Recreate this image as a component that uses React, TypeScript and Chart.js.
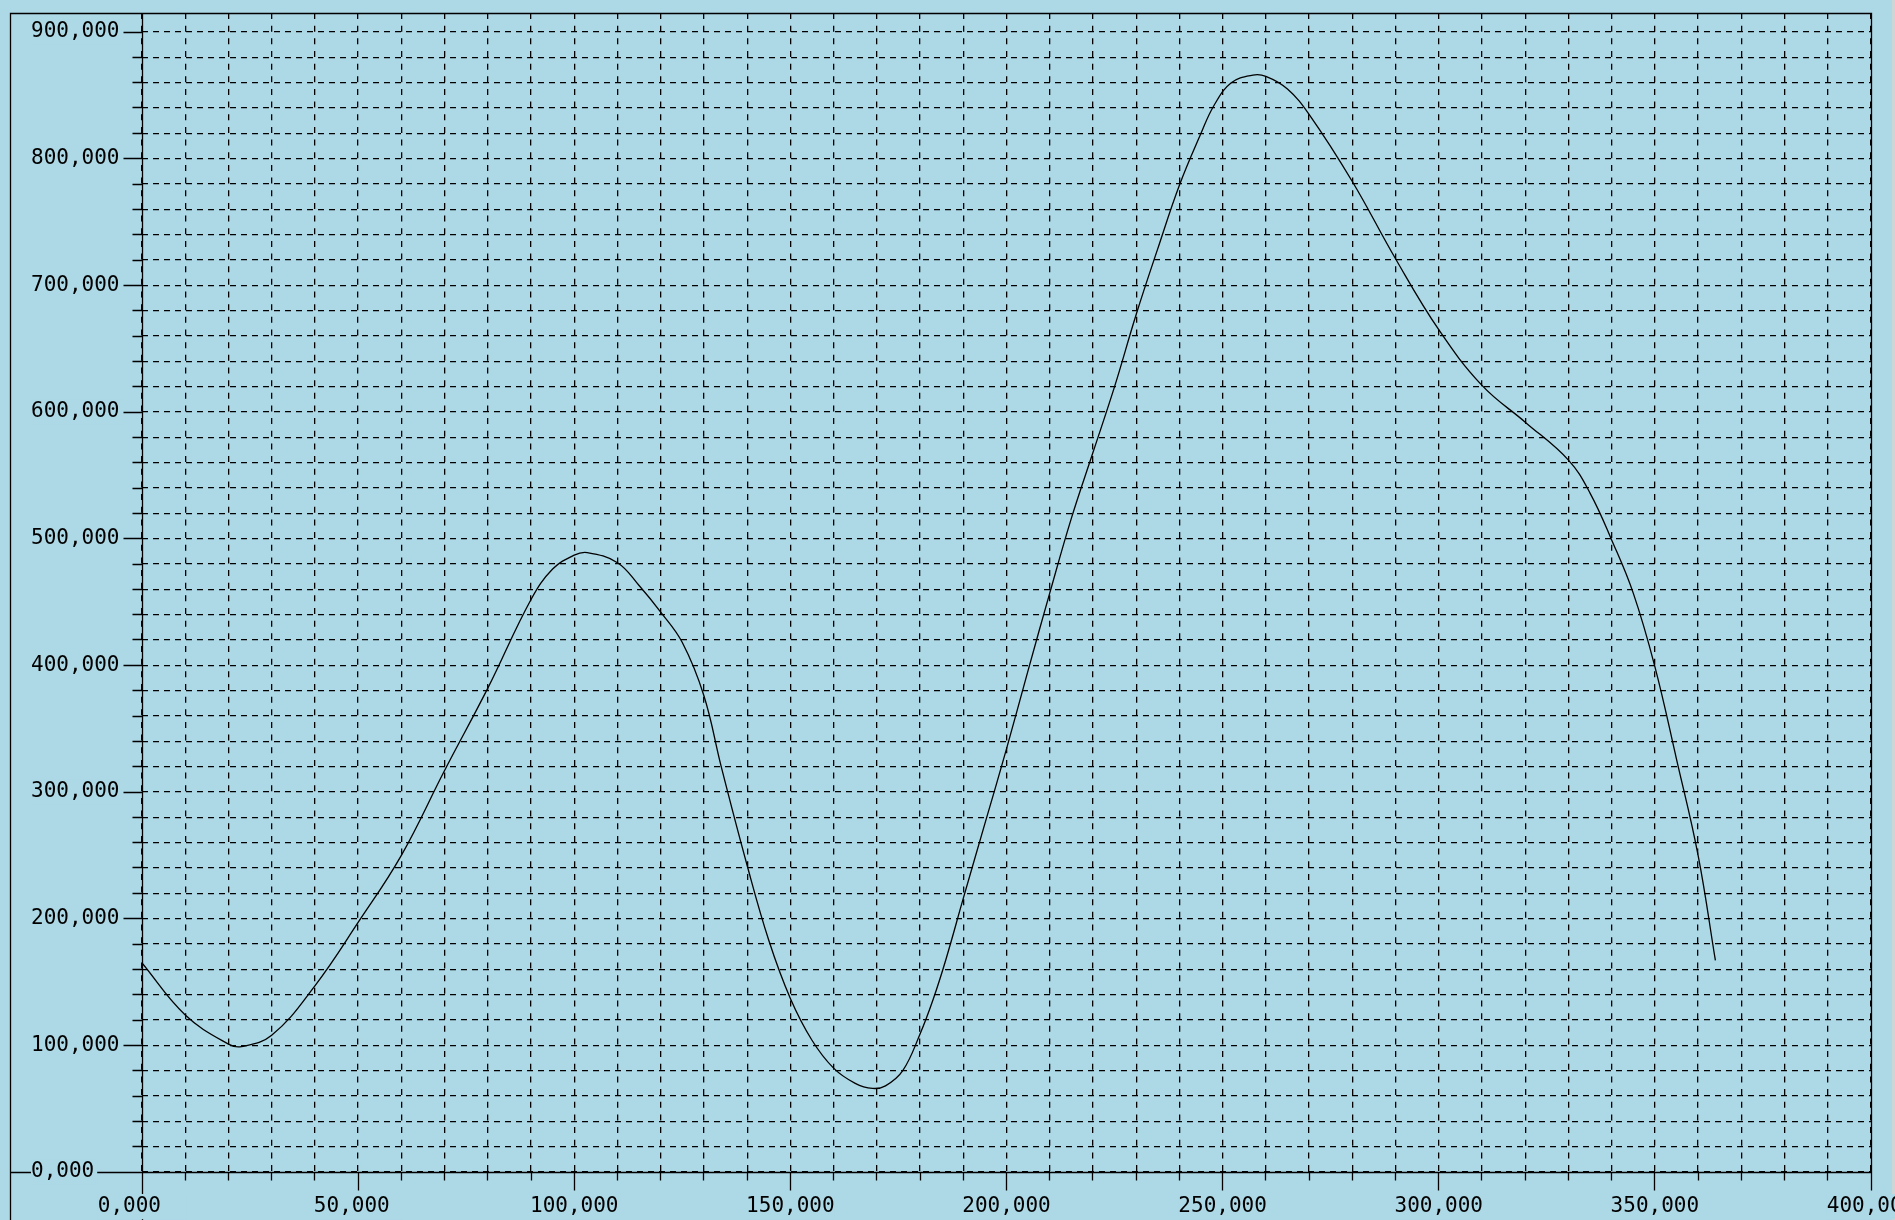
import React, { useEffect, useRef } from 'react';
import { Chart, registerables } from 'chart.js';

Chart.register(...registerables);

// ---- data (x: day-like units, y: amount) ----
const seriesX = [0, 10, 20, 23, 30, 40, 50, 60, 70, 80, 90, 95, 100, 103, 110, 115, 120, 125, 130, 134, 140, 145, 150, 155, 160, 165, 169, 172, 176, 180, 183, 186, 190, 195, 200, 205, 210, 215, 220, 225, 230, 235, 240, 245, 248, 252, 257, 260, 265, 270, 280, 290, 300, 310, 320, 330, 335, 340, 345, 350, 355, 360, 364];
const seriesY = [165, 124, 101, 99, 108, 147, 197, 250, 317, 382, 452, 476, 487, 489, 481, 463, 442, 418, 376, 320, 242, 183, 137, 104, 82, 70, 66, 68, 80, 109, 136, 168, 216, 275, 334, 396, 457, 516, 568, 620, 677, 729, 779, 820, 842, 860, 866, 865, 855, 835, 782, 721, 665, 621, 592, 562, 536, 499, 457, 399, 326, 250, 167];

// ---- axes ----
const xMajorTicks = [0, 50, 100, 150, 200, 250, 300, 350, 400];
const yMajorTicks = [0, 100, 200, 300, 400, 500, 600, 700, 800, 900];
const xMinorStep = 10;
const yMinorStep = 20;
const xMin = 0;
const xMax = 400;
const yMin = 0;
const yMax = 915;

const BG = '#add8e6';
const INK = '#000000';
const FONT_FAMILY = '"DejaVu Sans Mono", "Liberation Mono", monospace';

function fmt(v: number): string {
  return v.toFixed(3).replace('.', ',');
}

function stepsBetween(lo: number, hi: number, step: number): number[] {
  const out: number[] = [];
  for (let v = lo; v <= hi + 1e-9; v += step) out.push(Math.round(v * 1000) / 1000);
  return out;
}

export default function App() {
  const ref = useRef<HTMLCanvasElement>(null);

  useEffect(() => {
    const canvas = ref.current;
    if (!canvas) return;

    const xGrid = stepsBetween(xMin, xMax, xMinorStep);
    const yGrid = stepsBetween(yMin, yMajorTicks[yMajorTicks.length - 1], yMinorStep);

    const al = (p: number) => Math.round(p - 0.5) + 0.5;

    const framePlugin = {
      id: 'frame',
      beforeDraw(chart: any) {
        const { ctx, chartArea: a, scales } = chart;
        const xs = scales.x;
        const ys = scales.y;
        ctx.save();
        ctx.fillStyle = BG;
        ctx.fillRect(0, 0, chart.width, chart.height);
        ctx.strokeStyle = INK;
        ctx.lineWidth = 1.3;
        ctx.setLineDash([]);
        const L = al(a.left);
        const R = al(a.right);
        const T = al(a.top);
        const B = al(a.bottom);
        const F = al(10);
        ctx.beginPath();
        // outer frame left + top
        ctx.moveTo(F, chart.height);
        ctx.lineTo(F, T);
        ctx.lineTo(R, T);
        // right border
        ctx.lineTo(R, B + 18);
        // y axis, extended to bottom
        ctx.moveTo(L, T);
        ctx.lineTo(L, chart.height);
        // x axis, extended to outer frame
        ctx.moveTo(F, B);
        ctx.lineTo(R, B);
        // x tick marks
        xGrid.forEach((v) => {
          const px = al(xs.getPixelForValue(v));
          const len = xMajorTicks.includes(v) ? 18 : 8;
          ctx.moveTo(px, B);
          ctx.lineTo(px, B + len);
        });
        // y tick marks
        yGrid.forEach((v) => {
          const py = al(ys.getPixelForValue(v));
          const len = yMajorTicks.includes(v) ? 19 : 10;
          ctx.moveTo(L - len, py);
          ctx.lineTo(L, py);
        });
        ctx.stroke();
        // window edge strip at the far right
        ctx.fillStyle = '#cdd5d6';
        ctx.fillRect(chart.width - 3, 0, 3, chart.height);
        ctx.restore();
      },
    };

    const chart = new Chart(canvas, {
      type: 'line',
      data: {
        datasets: [
          {
            data: seriesX.map((x, i) => ({ x, y: seriesY[i] })),
            borderColor: INK,
            borderWidth: 1.3,
            pointRadius: 0,
            fill: false,
            tension: 0.4,
          },
        ],
      },
      options: {
        animation: false,
        responsive: true,
        maintainAspectRatio: false,
        events: [],
        layout: { padding: { left: 31, top: 13, right: 24, bottom: 0 } },
        plugins: {
          legend: { display: false },
          tooltip: { enabled: false },
          title: { display: false },
        },
        scales: {
          x: {
            type: 'linear',
            min: xMin,
            max: xMax,
            afterBuildTicks: (s: any) => {
              s.ticks = xGrid.map((v) => ({ value: v }));
            },
            afterFit: (s: any) => {
              s.height = 48;
              s.paddingLeft = 0;
              s.paddingRight = 0;
            },
            grid: { color: INK, lineWidth: 1.3, drawTicks: false },
            border: { display: false, dash: [6, 6.66] },
            ticks: {
              autoSkip: false,
              maxRotation: 0,
              minRotation: 0,
              padding: 22,
              color: INK,
              font: { family: FONT_FAMILY, size: 21 },
              callback: (v: any) => (xMajorTicks.includes(Number(v)) ? fmt(Number(v)).padEnd(7, ' ') : ''),
              showLabelBackdrop: (c: any) => !!c.tick && xMajorTicks.includes(c.tick.value),
              backdropColor: BG,
              backdropPadding: 0,
            },
          },
          y: {
            type: 'linear',
            min: yMin,
            max: yMax,
            afterBuildTicks: (s: any) => {
              s.ticks = yGrid.map((v) => ({ value: v }));
            },
            afterFit: (s: any) => {
              s.width = 111;
              s.paddingTop = 0;
              s.paddingBottom = 0;
            },
            grid: { color: INK, lineWidth: 1.3, drawTicks: false },
            border: { display: false, dash: [6, 5] },
            ticks: {
              autoSkip: false,
              crossAlign: 'far',
              labelOffset: 0,
              padding: 0,
              color: INK,
              font: { family: FONT_FAMILY, size: 21 },
              callback: (v: any) => (yMajorTicks.includes(Number(v)) ? fmt(Number(v)) : ''),
              showLabelBackdrop: (c: any) => !!c.tick && yMajorTicks.includes(c.tick.value),
              backdropColor: BG,
              backdropPadding: { left: 1, right: 3, top: 0, bottom: 0 },
            },
          },
        },
      } as any,
      plugins: [framePlugin],
    });

    return () => chart.destroy();
  }, []);

  return (
    <div
      style={{
        position: 'fixed',
        left: 0,
        top: 0,
        width: '1895px',
        height: '1220px',
        background: BG,
      }}
    >
      <canvas ref={ref} />
    </div>
  );
}
